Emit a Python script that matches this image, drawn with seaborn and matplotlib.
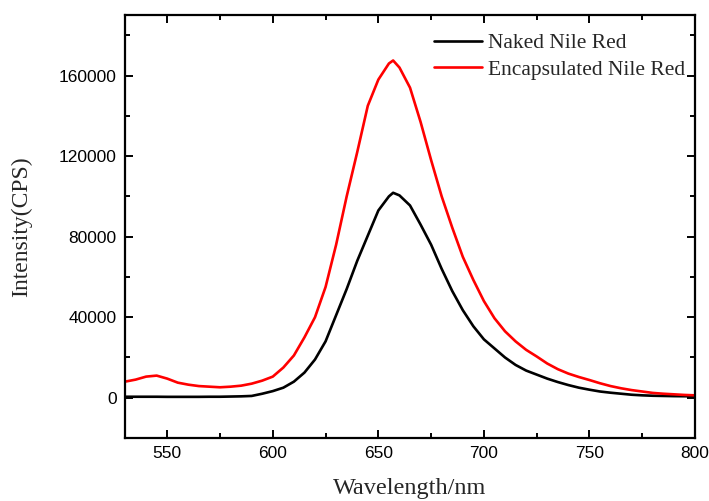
import numpy as np
import pandas as pd
import matplotlib
matplotlib.use("Agg")
import matplotlib.pyplot as plt
import seaborn as sns
from matplotlib.ticker import MultipleLocator

# --- DATA ---
wavelength = [530, 535, 540, 545, 550, 555, 560, 565, 570, 575, 580, 585, 590, 595,
              600, 605, 610, 615, 620, 625, 630, 635, 640, 645, 650, 655, 657, 660,
              665, 670, 675, 680, 685, 690, 695, 700, 705, 710, 715, 720, 725, 730,
              735, 740, 745, 750, 755, 760, 765, 770, 775, 780, 785, 790, 795, 800]

naked = [500, 500, 500, 500, 450, 450, 450, 450, 500, 500, 600, 700, 900, 2000,
         3300, 5000, 8000, 12500, 19000, 28000, 41000, 54000, 68000, 80500, 93000, 100000, 101800, 100500,
         95500, 86000, 76000, 64000, 53000, 43500, 35500, 29000, 24500, 20000, 16300, 13500, 11500, 9500,
         7800, 6300, 5000, 4000, 3100, 2500, 2000, 1500, 1200, 1000, 900, 800, 750, 700]

encapsulated = [8000, 9000, 10500, 11000, 9500, 7500, 6500, 5800, 5500, 5200, 5500, 6000, 7000, 8500,
                10500, 15000, 21000, 30000, 40000, 55000, 76000, 100000, 122000, 145000, 158000, 166000, 167500, 164000,
                154000, 137000, 118000, 100000, 84500, 70000, 58500, 48000, 39500, 33000, 28000, 23800, 20500, 17000,
                14200, 12000, 10300, 8800, 7200, 5800, 4700, 3800, 3100, 2400, 2000, 1700, 1400, 1200]

series_names = ["Naked Nile Red", "Encapsulated Nile Red"]
series_colors = ["#000000", "#ff0000"]

df = pd.DataFrame({
    "wavelength": wavelength * 2,
    "intensity": naked + encapsulated,
    "sample": [series_names[0]] * len(naked) + [series_names[1]] * len(encapsulated),
})

# --- STYLE ---
sns.set_style("ticks")
plt.rcParams["font.family"] = ["Liberation Sans", "DejaVu Sans"]
serif = ["Liberation Serif", "DejaVu Serif"]

fig = plt.figure(figsize=(7.09, 5.01), dpi=100)
ax = fig.add_axes([0.1763, 0.1257, 0.804, 0.844])

sns.lineplot(data=df, x="wavelength", y="intensity", hue="sample",
             hue_order=series_names, palette=series_colors,
             linewidth=1.9, ax=ax, legend=False)

ax.set_xlim(530, 800)
ax.set_ylim(-20000, 190000)
ax.xaxis.set_major_locator(MultipleLocator(50))
ax.xaxis.set_minor_locator(MultipleLocator(25))
ax.yaxis.set_major_locator(MultipleLocator(40000))
ax.yaxis.set_minor_locator(MultipleLocator(20000))

ax.tick_params(which="both", direction="in", top=True, right=True,
               labelsize=12.5, colors="black", width=1.4)
ax.tick_params(which="major", length=6, pad=6)
ax.tick_params(which="minor", length=3.5)
for s in ax.spines.values():
    s.set_linewidth(1.6)
    s.set_color("black")

ax.set_xlabel("Wavelength/nm", fontsize=17.5, family=serif, labelpad=12)
ax.set_ylabel("Intensity(CPS)", fontsize=17, family=serif, labelpad=19)

handles = [plt.Line2D([], [], color=c, linewidth=1.9) for c in series_colors]
ax.legend(handles, series_names, loc="upper right", frameon=False,
          prop={"family": serif, "size": 15.5}, handlelength=2.2,
          handletextpad=0.3, labelspacing=0.3, borderaxespad=0.2,
          borderpad=0.25, bbox_to_anchor=(1.0, 0.98))

fig.savefig("out.png", dpi=100)
